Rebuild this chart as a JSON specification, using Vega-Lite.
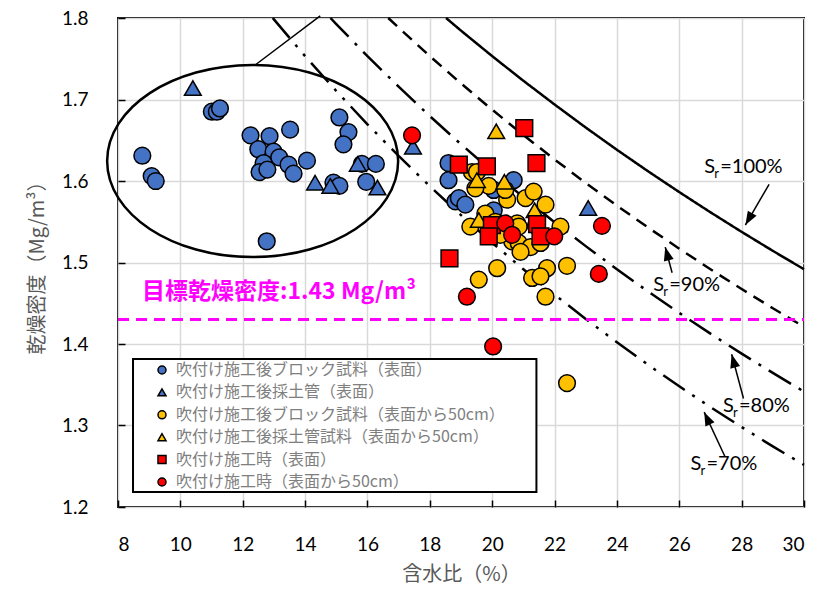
{
  "$schema": "https://vega.github.io/schema/vega-lite/v6.json",
  "width": 686,
  "height": 489,
  "autosize": {"type": "none"},
  "padding": {"left": 118, "top": 18, "right": 17, "bottom": 88},
  "background": "white",
  "config": {
    "view": {"stroke": "black", "strokeWidth": 2},
    "axis": {
      "grid": true, "gridColor": "#D9D9D9", "gridWidth": 1.5,
      "domain": false, "tickColor": "black", "tickSize": -7, "tickWidth": 1.5,
      "labelFont": "Lato", "labelFontSize": 19, "labelColor": "black",
      "titleFont": "Noto Sans CJK JP", "titleFontSize": 20, "titleColor": "#595959", "titleFontWeight": "normal"
    }
  },
  "datasets": {
    "pts": [
      {"s":"吹付け施工後ブロック試料（表面）","w":8.78,"d":1.631},
      {"s":"吹付け施工後ブロック試料（表面）","w":9.08,"d":1.606},
      {"s":"吹付け施工後ブロック試料（表面）","w":9.21,"d":1.600},
      {"s":"吹付け施工後ブロック試料（表面）","w":11.01,"d":1.685},
      {"s":"吹付け施工後ブロック試料（表面）","w":11.17,"d":1.685},
      {"s":"吹付け施工後ブロック試料（表面）","w":11.27,"d":1.689},
      {"s":"吹付け施工後ブロック試料（表面）","w":12.25,"d":1.656},
      {"s":"吹付け施工後ブロック試料（表面）","w":12.86,"d":1.655},
      {"s":"吹付け施工後ブロック試料（表面）","w":13.52,"d":1.663},
      {"s":"吹付け施工後ブロック試料（表面）","w":12.50,"d":1.639},
      {"s":"吹付け施工後ブロック試料（表面）","w":12.99,"d":1.636},
      {"s":"吹付け施工後ブロック試料（表面）","w":13.17,"d":1.629},
      {"s":"吹付け施工後ブロック試料（表面）","w":12.67,"d":1.622},
      {"s":"吹付け施工後ブロック試料（表面）","w":13.47,"d":1.620},
      {"s":"吹付け施工後ブロック試料（表面）","w":14.06,"d":1.625},
      {"s":"吹付け施工後ブロック試料（表面）","w":13.63,"d":1.609},
      {"s":"吹付け施工後ブロック試料（表面）","w":12.54,"d":1.611},
      {"s":"吹付け施工後ブロック試料（表面）","w":12.79,"d":1.614},
      {"s":"吹付け施工後ブロック試料（表面）","w":15.10,"d":1.678},
      {"s":"吹付け施工後ブロック試料（表面）","w":15.39,"d":1.660},
      {"s":"吹付け施工後ブロック試料（表面）","w":15.23,"d":1.645},
      {"s":"吹付け施工後ブロック試料（表面）","w":14.91,"d":1.598},
      {"s":"吹付け施工後ブロック試料（表面）","w":15.10,"d":1.594},
      {"s":"吹付け施工後ブロック試料（表面）","w":15.82,"d":1.621},
      {"s":"吹付け施工後ブロック試料（表面）","w":16.27,"d":1.621},
      {"s":"吹付け施工後ブロック試料（表面）","w":15.96,"d":1.599},
      {"s":"吹付け施工後ブロック試料（表面）","w":12.77,"d":1.526},
      {"s":"吹付け施工後ブロック試料（表面）","w":18.60,"d":1.622},
      {"s":"吹付け施工後ブロック試料（表面）","w":18.60,"d":1.601},
      {"s":"吹付け施工後ブロック試料（表面）","w":18.82,"d":1.575},
      {"s":"吹付け施工後ブロック試料（表面）","w":18.93,"d":1.579},
      {"s":"吹付け施工後ブロック試料（表面）","w":19.14,"d":1.571},
      {"s":"吹付け施工後ブロック試料（表面）","w":20.05,"d":1.589},
      {"s":"吹付け施工後ブロック試料（表面）","w":20.05,"d":1.564},
      {"s":"吹付け施工後ブロック試料（表面）","w":20.69,"d":1.601},
      {"s":"吹付け施工後採土管（表面）","w":10.40,"d":1.714},
      {"s":"吹付け施工後採土管（表面）","w":14.32,"d":1.598},
      {"s":"吹付け施工後採土管（表面）","w":14.81,"d":1.594},
      {"s":"吹付け施工後採土管（表面）","w":15.69,"d":1.621},
      {"s":"吹付け施工後採土管（表面）","w":16.32,"d":1.592},
      {"s":"吹付け施工後採土管（表面）","w":17.46,"d":1.642},
      {"s":"吹付け施工後採土管（表面）","w":23.08,"d":1.567},
      {"s":"吹付け施工後ブロック試料（表面から50cm）","w":19.35,"d":1.611},
      {"s":"吹付け施工後ブロック試料（表面から50cm）","w":19.51,"d":1.611},
      {"s":"吹付け施工後ブロック試料（表面から50cm）","w":19.89,"d":1.594},
      {"s":"吹付け施工後ブロック試料（表面から50cm）","w":19.46,"d":1.591},
      {"s":"吹付け施工後ブロック試料（表面から50cm）","w":20.48,"d":1.577},
      {"s":"吹付け施工後ブロック試料（表面から50cm）","w":21.07,"d":1.579},
      {"s":"吹付け施工後ブロック試料（表面から50cm）","w":21.33,"d":1.587},
      {"s":"吹付け施工後ブロック試料（表面から50cm）","w":21.71,"d":1.571},
      {"s":"吹付け施工後ブロック試料（表面から50cm）","w":19.78,"d":1.560},
      {"s":"吹付け施工後ブロック試料（表面から50cm）","w":19.30,"d":1.544},
      {"s":"吹付け施工後ブロック試料（表面から50cm）","w":20.80,"d":1.548},
      {"s":"吹付け施工後ブロック試料（表面から50cm）","w":20.85,"d":1.544},
      {"s":"吹付け施工後ブロック試料（表面から50cm）","w":22.19,"d":1.544},
      {"s":"吹付け施工後ブロック試料（表面から50cm）","w":20.64,"d":1.526},
      {"s":"吹付け施工後ブロック試料（表面から50cm）","w":20.85,"d":1.524},
      {"s":"吹付け施工後ブロック試料（表面から50cm）","w":21.23,"d":1.519},
      {"s":"吹付け施工後ブロック試料（表面から50cm）","w":20.91,"d":1.513},
      {"s":"吹付け施工後ブロック試料（表面から50cm）","w":21.55,"d":1.524},
      {"s":"吹付け施工後ブロック試料（表面から50cm）","w":20.26,"d":1.534},
      {"s":"吹付け施工後ブロック試料（表面から50cm）","w":20.16,"d":1.493},
      {"s":"吹付け施工後ブロック試料（表面から50cm）","w":19.57,"d":1.479},
      {"s":"吹付け施工後ブロック試料（表面から50cm）","w":21.76,"d":1.493},
      {"s":"吹付け施工後ブロック試料（表面から50cm）","w":21.28,"d":1.481},
      {"s":"吹付け施工後ブロック試料（表面から50cm）","w":21.55,"d":1.483},
      {"s":"吹付け施工後ブロック試料（表面から50cm）","w":21.71,"d":1.458},
      {"s":"吹付け施工後ブロック試料（表面から50cm）","w":22.40,"d":1.496},
      {"s":"吹付け施工後ブロック試料（表面から50cm）","w":22.40,"d":1.352},
      {"s":"吹付け施工後ブロック試料（表面から50cm）","w":20.42,"d":1.589},
      {"s":"吹付け施工後ブロック試料（表面から50cm）","w":21.40,"d":1.545},
      {"s":"吹付け施工後ブロック試料（表面から50cm）","w":20.10,"d":1.550},
      {"s":"吹付け施工後採土管試料（表面から50cm）","w":20.13,"d":1.661},
      {"s":"吹付け施工後採土管試料（表面から50cm）","w":19.51,"d":1.601},
      {"s":"吹付け施工後採土管試料（表面から50cm）","w":20.39,"d":1.599},
      {"s":"吹付け施工後採土管試料（表面から50cm）","w":19.57,"d":1.552},
      {"s":"吹付け施工後採土管試料（表面から50cm）","w":21.36,"d":1.564},
      {"s":"吹付け施工時（表面）","w":21.03,"d":1.665},
      {"s":"吹付け施工時（表面）","w":18.93,"d":1.620},
      {"s":"吹付け施工時（表面）","w":19.83,"d":1.618},
      {"s":"吹付け施工時（表面）","w":21.42,"d":1.622},
      {"s":"吹付け施工時（表面）","w":18.63,"d":1.505},
      {"s":"吹付け施工時（表面）","w":19.99,"d":1.546},
      {"s":"吹付け施工時（表面）","w":19.89,"d":1.532},
      {"s":"吹付け施工時（表面）","w":21.44,"d":1.547},
      {"s":"吹付け施工時（表面）","w":21.55,"d":1.532},
      {"s":"吹付け施工時（表面から50cm）","w":17.43,"d":1.656},
      {"s":"吹付け施工時（表面から50cm）","w":20.42,"d":1.548},
      {"s":"吹付け施工時（表面から50cm）","w":20.64,"d":1.534},
      {"s":"吹付け施工時（表面から50cm）","w":21.99,"d":1.532},
      {"s":"吹付け施工時（表面から50cm）","w":23.52,"d":1.545},
      {"s":"吹付け施工時（表面から50cm）","w":23.42,"d":1.486},
      {"s":"吹付け施工時（表面から50cm）","w":19.19,"d":1.458},
      {"s":"吹付け施工時（表面から50cm）","w":20.03,"d":1.397}
    ],
    "curves": [
      {"sr":"100","w":18.52,"d":1.800},{"sr":"100","w":19,"d":1.7845},{"sr":"100","w":20,"d":1.7532},{"sr":"100","w":21,"d":1.7230},
      {"sr":"100","w":22,"d":1.6939},{"sr":"100","w":23,"d":1.6656},{"sr":"100","w":24,"d":1.6383},{"sr":"100","w":25,"d":1.6119},
      {"sr":"100","w":26,"d":1.5864},{"sr":"100","w":27,"d":1.5616},{"sr":"100","w":28,"d":1.5376},{"sr":"100","w":29,"d":1.5143},{"sr":"100","w":30,"d":1.4917},
      {"sr":"90","w":16.667,"d":1.800},{"sr":"90","w":17,"d":1.7881},{"sr":"90","w":18,"d":1.7532},{"sr":"90","w":19,"d":1.7197},
      {"sr":"90","w":20,"d":1.6875},{"sr":"90","w":21,"d":1.6564},{"sr":"90","w":22,"d":1.6265},{"sr":"90","w":23,"d":1.5976},
      {"sr":"90","w":24,"d":1.5698},{"sr":"90","w":25,"d":1.5429},{"sr":"90","w":26,"d":1.5169},{"sr":"90","w":27,"d":1.4917},
      {"sr":"90","w":28,"d":1.4674},{"sr":"90","w":29,"d":1.4439},{"sr":"90","w":30,"d":1.4211},
      {"sr":"80","w":14.815,"d":1.800},{"sr":"80","w":15,"d":1.7925},{"sr":"80","w":16,"d":1.7532},{"sr":"80","w":17,"d":1.7157},
      {"sr":"80","w":18,"d":1.6796},{"sr":"80","w":19,"d":1.6451},{"sr":"80","w":20,"d":1.6119},{"sr":"80","w":21,"d":1.5801},
      {"sr":"80","w":22,"d":1.5495},{"sr":"80","w":23,"d":1.5201},{"sr":"80","w":24,"d":1.4917},{"sr":"80","w":25,"d":1.4644},
      {"sr":"80","w":26,"d":1.4381},{"sr":"80","w":27,"d":1.4127},{"sr":"80","w":28,"d":1.3882},{"sr":"80","w":29,"d":1.3645},{"sr":"80","w":30,"d":1.3416},
      {"sr":"70","w":12.963,"d":1.800},{"sr":"70","w":13,"d":1.7983},{"sr":"70","w":14,"d":1.7532},{"sr":"70","w":15,"d":1.7104},
      {"sr":"70","w":16,"d":1.6696},{"sr":"70","w":17,"d":1.6307},{"sr":"70","w":18,"d":1.5936},{"sr":"70","w":19,"d":1.5581},
      {"sr":"70","w":20,"d":1.5242},{"sr":"70","w":21,"d":1.4917},{"sr":"70","w":22,"d":1.4606},{"sr":"70","w":23,"d":1.4307},
      {"sr":"70","w":24,"d":1.4021},{"sr":"70","w":25,"d":1.3745},{"sr":"70","w":26,"d":1.3481},{"sr":"70","w":27,"d":1.3226},
      {"sr":"70","w":28,"d":1.2981},{"sr":"70","w":29,"d":1.2744},{"sr":"70","w":30,"d":1.2517}
    ],
    "arrows": [
      {"sr":"100","w":28.88,"d":1.5960,"w2":28.12,"d2":1.5460},
      {"sr":"90","w":25.77,"d":1.4875,"w2":25.55,"d2":1.5189},
      {"sr":"80","w":28.06,"d":1.3331,"w2":27.68,"d2":1.3874},
      {"sr":"70","w":27.46,"d":1.2622,"w2":26.80,"d2":1.3164}
    ],
    "labels": [
      {"sr":"100","w":26.80,"d":1.617,"rest":"=100%"},
      {"sr":"90","w":25.165,"d":1.4724,"rest":"=90%"},
      {"sr":"80","w":27.40,"d":1.324,"rest":"=80%"},
      {"sr":"70","w":26.36,"d":1.2528,"rest":"=70%"}
    ]
  },
  "encoding": {
    "x": {"field": "w", "type": "quantitative", "scale": {"domain": [8, 30], "nice": false, "zero": false},
          "axis": {"title": "含水比（%）", "values": [8,10,12,14,16,18,20,22,24,26,28,30], "labelPadding": 35, "titlePadding": 10}},
    "y": {"field": "d", "type": "quantitative", "scale": {"domain": [1.2, 1.8], "nice": false, "zero": false},
          "axis": {"title": "乾燥密度（Mg/m³）", "values": [1.2,1.3,1.4,1.5,1.6,1.7,1.8], "format": ".1f", "labelPadding": 37, "titlePadding": 14}}
  },
  "layer": [
    {
      "data": {"values": [{"w": 8.4815, "w2": 21.419, "d": 1.2184, "d2": 1.3816}]},
      "mark": {"type": "rect", "fill": "white", "stroke": "black", "strokeWidth": 2},
      "encoding": {"x2": {"field": "w2"}, "y2": {"field": "d2"}}
    },
    {
      "data": {"name": "curves"},
      "mark": {"type": "line", "color": "black", "strokeWidth": 2.5, "strokeCap": "butt"},
      "encoding": {
        "strokeDash": {"field": "sr", "type": "nominal", "legend": null,
          "scale": {"domain": ["100","90","80","70"], "range": [[1,0],[12,8],[26,9,3,9],[26,9,3,9,3,9]]}}
      }
    },
    {
      "data": {"values": [{"w": 8, "w2": 30, "d": 1.43}]},
      "mark": {"type": "rule", "color": "#FF00FF", "strokeWidth": 3, "strokeDash": [11, 7]},
      "encoding": {"x2": {"field": "w2"}}
    },
    {
      "data": {"values": [{"w": 12.318, "d": 1.6245}]},
      "mark": {"type": "point", "shape": "M-1,0C-1,-0.3645,-0.5523,-0.66,0,-0.66C0.5523,-0.66,1,-0.3645,1,0C1,0.3645,0.5523,0.66,0,0.66C-0.5523,0.66,-1,0.3645,-1,0Z",
               "size": 84681, "filled": false, "stroke": "black", "strokeWidth": 2.5, "opacity": 1},
      "encoding": {}
    },
    {
      "data": {"values": [{"w": 12.40, "d": 1.7423, "w2": 14.485, "d2": 1.8025}]},
      "mark": {"type": "rule", "color": "black", "strokeWidth": 1.5},
      "encoding": {"x2": {"field": "w2"}, "y2": {"field": "d2"}}
    },
    {
      "data": {"name": "arrows"},
      "mark": {"type": "rule", "color": "black", "strokeWidth": 1.5},
      "encoding": {"x2": {"field": "w2"}, "y2": {"field": "d2"}}
    },
    {
      "data": {"name": "arrows"},
      "transform": [{"filter": "datum.sr == '100'"}],
      "mark": {"type": "point", "shape": "M0,0L-0.37,1L0.37,1Z", "size": 740, "filled": true, "color": "black", "opacity": 1, "angle": 210},
      "encoding": {"x": {"field": "w2", "type": "quantitative"}, "y": {"field": "d2", "type": "quantitative"}}
    },
    {
      "data": {"name": "arrows"},
      "transform": [{"filter": "datum.sr == '90'"}],
      "mark": {"type": "point", "shape": "M0,0L-0.37,1L0.37,1Z", "size": 740, "filled": true, "color": "black", "opacity": 1, "angle": 345},
      "encoding": {"x": {"field": "w2", "type": "quantitative"}, "y": {"field": "d2", "type": "quantitative"}}
    },
    {
      "data": {"name": "arrows"},
      "transform": [{"filter": "datum.sr == '80'"}],
      "mark": {"type": "point", "shape": "M0,0L-0.37,1L0.37,1Z", "size": 740, "filled": true, "color": "black", "opacity": 1, "angle": 345},
      "encoding": {"x": {"field": "w2", "type": "quantitative"}, "y": {"field": "d2", "type": "quantitative"}}
    },
    {
      "data": {"name": "arrows"},
      "transform": [{"filter": "datum.sr == '70'"}],
      "mark": {"type": "point", "shape": "M0,0L-0.37,1L0.37,1Z", "size": 740, "filled": true, "color": "black", "opacity": 1, "angle": 335},
      "encoding": {"x": {"field": "w2", "type": "quantitative"}, "y": {"field": "d2", "type": "quantitative"}}
    },
    {
      "data": {"name": "labels"},
      "mark": {"type": "text", "text": "S", "font": "Lato", "fontSize": 20, "align": "left", "baseline": "middle", "color": "black"},
      "encoding": {}
    },
    {
      "data": {"name": "labels"},
      "mark": {"type": "text", "text": "r", "font": "Lato", "fontSize": 13, "align": "left", "baseline": "middle", "color": "black", "dx": 10, "dy": 7},
      "encoding": {}
    },
    {
      "data": {"name": "labels"},
      "mark": {"type": "text", "font": "Lato", "fontSize": 20, "align": "left", "baseline": "middle", "color": "black", "dx": 16},
      "encoding": {"text": {"field": "rest"}}
    },
    {
      "data": {"values": [{"w": 8.77, "d": 1.4632, "t": "目標乾燥密度:1.43 Mg/m³"}]},
      "mark": {"type": "text", "font": "Noto Sans CJK JP", "fontSize": 23, "fontWeight": "bold", "align": "left", "baseline": "middle", "color": "#FF00FF"},
      "encoding": {"text": {"field": "t"}}
    },
    {
      "data": {"name": "pts"},
      "mark": {"type": "point", "filled": true, "opacity": 1, "size": 280, "stroke": "black", "strokeWidth": 1.5},
      "encoding": {
        "fill": {"field": "s", "type": "nominal", "title": null,
          "scale": {"domain": ["吹付け施工後ブロック試料（表面）","吹付け施工後採土管（表面）","吹付け施工後ブロック試料（表面から50cm）","吹付け施工後採土管試料（表面から50cm）","吹付け施工時（表面）","吹付け施工時（表面から50cm）"],
                    "range": ["#4472C4","#4472C4","#FFC000","#FFC000","#FF0000","#FF0000"]},
          "legend": {"orient": "none", "legendX": 36, "legendY": 344, "labelFont": "Noto Sans CJK JP", "labelFontSize": 16, "labelColor": "#7F7F7F",
                     "symbolSize": 64, "rowPadding": 6.4, "labelOffset": 6, "padding": 0, "labelLimit": 500,
                     "encode": {"symbols": {"update": {"stroke": {"value": "black"}, "strokeWidth": {"value": 1.5}}}}}},
        "shape": {"field": "s", "type": "nominal", "title": null,
          "scale": {"domain": ["吹付け施工後ブロック試料（表面）","吹付け施工後採土管（表面）","吹付け施工後ブロック試料（表面から50cm）","吹付け施工後採土管試料（表面から50cm）","吹付け施工時（表面）","吹付け施工時（表面から50cm）"],
                    "range": ["circle","triangle-up","circle","triangle-up","square","circle"]},
          "legend": {"orient": "none", "legendX": 36, "legendY": 344, "labelFont": "Noto Sans CJK JP", "labelFontSize": 16, "labelColor": "#7F7F7F",
                     "symbolSize": 64, "rowPadding": 6.4, "labelOffset": 6, "padding": 0, "labelLimit": 500,
                     "encode": {"symbols": {"update": {"stroke": {"value": "black"}, "strokeWidth": {"value": 1.5}}}}}}
      }
    }
  ]
}
